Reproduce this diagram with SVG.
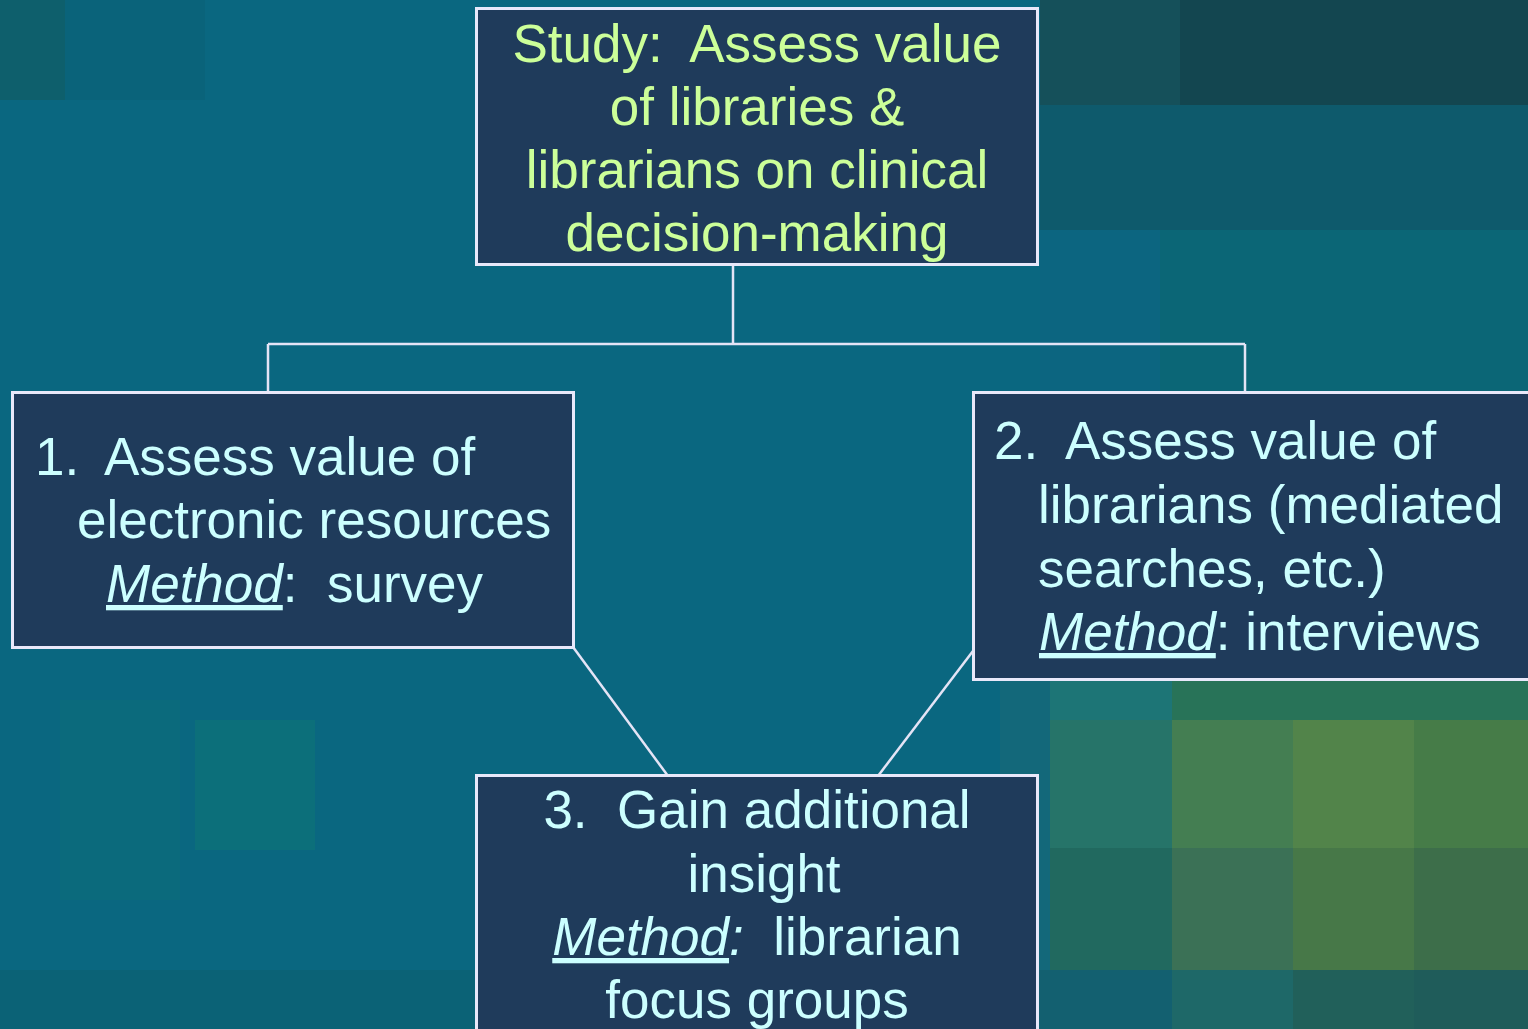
<svg xmlns="http://www.w3.org/2000/svg" width="1528" height="1029" viewBox="0 0 1528 1029">
<style>
.box{fill:#1f3b5b;stroke:#e8e8fa;stroke-width:3}
.conn{stroke:#e4e4f6;stroke-width:2.5;fill:none}
text{font-family:"Liberation Sans",Arial,sans-serif;font-size:53px;white-space:pre}
.top{fill:#ccff99}
.txt{fill:#ccffff}
.m{font-style:italic;text-decoration:underline}
.i{font-style:italic}
</style>
<g id="background">
<rect x="0" y="0" width="1528" height="1029" fill="#0a6780"/>
<rect x="0" y="0" width="65" height="100" fill="#0e5f6c"/>
<rect x="65" y="0" width="140" height="100" fill="#0a637a"/>
<rect x="60" y="700" width="120" height="200" fill="#0b6a7c"/>
<rect x="195" y="720" width="120" height="130" fill="#0c6f7a"/>
<rect x="0" y="970" width="476" height="59" fill="#0b6276"/>
<rect x="1040" y="0" width="488" height="105" fill="#134650"/>
<rect x="1040" y="0" width="140" height="105" fill="#15505a"/>
<rect x="1040" y="105" width="488" height="125" fill="#0e5a6c"/>
<rect x="1040" y="230" width="488" height="162" fill="#0b6676"/>
<rect x="1040" y="230" width="120" height="162" fill="#0c6580"/>
<rect x="1000" y="680" width="50" height="290" fill="#13687a"/>
<rect x="1050" y="680" width="122" height="40" fill="#1d7576"/>
<rect x="1172" y="680" width="356" height="40" fill="#287358"/>
<rect x="1050" y="720" width="122" height="128" fill="#267469"/>
<rect x="1172" y="720" width="121" height="128" fill="#447e52"/>
<rect x="1293" y="720" width="121" height="128" fill="#52844a"/>
<rect x="1414" y="720" width="114" height="128" fill="#467c48"/>
<rect x="1050" y="848" width="122" height="122" fill="#21695f"/>
<rect x="1172" y="848" width="121" height="122" fill="#3b7156"/>
<rect x="1293" y="848" width="121" height="122" fill="#477848"/>
<rect x="1414" y="848" width="114" height="122" fill="#3d6e4a"/>
<rect x="1000" y="970" width="172" height="59" fill="#136070"/>
<rect x="1172" y="970" width="121" height="59" fill="#1e6868"/>
<rect x="1293" y="970" width="121" height="59" fill="#21605a"/>
<rect x="1414" y="970" width="114" height="59" fill="#1f5c5a"/>
</g>
<g id="connectors">
<line class="conn" x1="733" y1="264" x2="733" y2="344"/>
<line class="conn" x1="268" y1="344" x2="1245" y2="344"/>
<line class="conn" x1="268" y1="344" x2="268" y2="392"/>
<line class="conn" x1="1245" y1="344" x2="1245" y2="392"/>
<line class="conn" x1="573" y1="647" x2="668" y2="776"/>
<line class="conn" x1="973" y1="651" x2="878" y2="776"/>
</g>
<g id="node-study">
<rect class="box" x="476.5" y="8.5" width="561" height="256"/>
<text class="top" text-anchor="middle"><tspan x="757" y="62">Study:  Assess value</tspan><tspan x="757" y="125">of libraries &amp;</tspan><tspan x="757" y="188">librarians on clinical</tspan><tspan x="757" y="251">decision-making</tspan></text>
</g>
<g id="node-1">
<rect class="box" x="12.5" y="392.5" width="561" height="255"/>
<text class="txt"><tspan x="35" y="475">1.</tspan><tspan x="104" y="475">Assess value of</tspan><tspan x="77" y="538">electronic resources</tspan><tspan x="106" y="602" class="m">Method</tspan><tspan>:  survey</tspan></text>
</g>
<g id="node-2">
<rect class="box" x="973.5" y="392.5" width="570" height="287"/>
<text class="txt"><tspan x="994" y="459">2.</tspan><tspan x="1065" y="459">Assess value of</tspan><tspan x="1038" y="523">librarians (mediated</tspan><tspan x="1038" y="587">searches, etc.)</tspan><tspan x="1039" y="650" class="m">Method</tspan><tspan>: interviews</tspan></text>
</g>
<g id="node-3">
<rect class="box" x="476.5" y="775.5" width="561" height="270"/>
<text class="txt" text-anchor="middle"><tspan x="757" y="828">3.  Gain additional</tspan><tspan x="764" y="892">insight</tspan><tspan x="757" y="955" class="m">Method</tspan><tspan class="i">:</tspan><tspan>  librarian</tspan><tspan x="757" y="1018">focus groups</tspan></text>
</g>
</svg>
